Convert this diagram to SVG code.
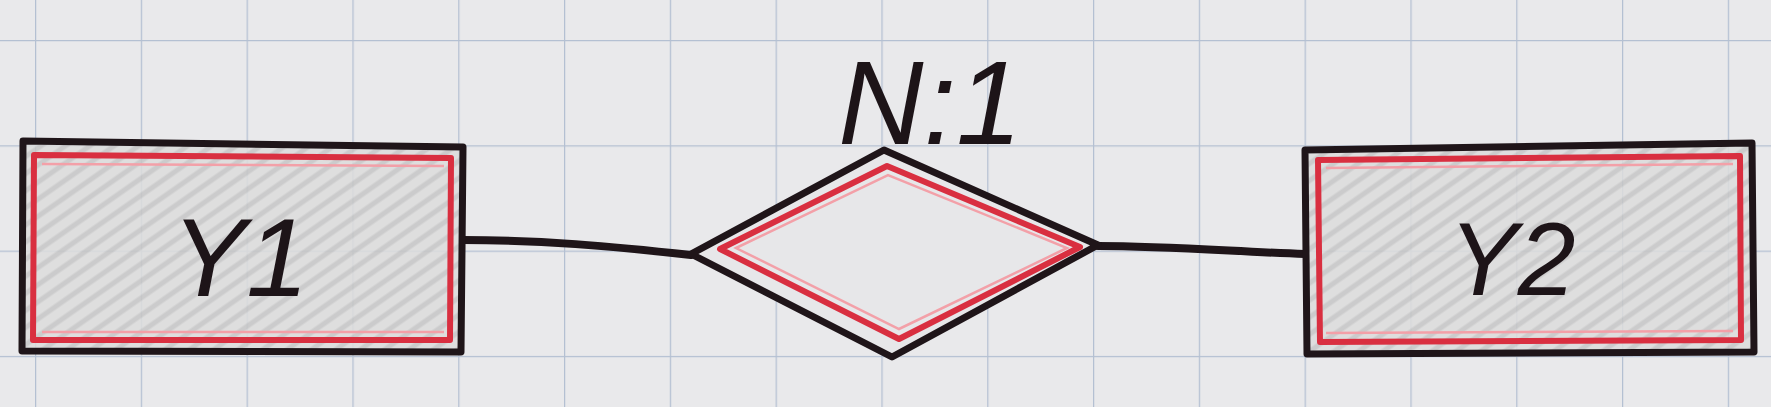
<svg xmlns="http://www.w3.org/2000/svg" width="1771" height="407" viewBox="0 0 1771 407">
  <style>
    .ink { fill: none; stroke: #1f1519; stroke-width: 7; stroke-linejoin: round; stroke-linecap: round; }
    .wire { fill: none; stroke: #1f1519; stroke-width: 8; stroke-linecap: round; }
    .red { fill: none; stroke: #d92f40; stroke-width: 6; stroke-linejoin: round; }
    .redlite { fill: none; stroke: #f3a0a8; stroke-width: 2.5; }
    .lbl { font-family: "Liberation Sans", Arial, sans-serif; font-style: italic; fill: #1d1418; text-anchor: middle; }
  </style>
  <defs>
    <pattern id="grid" x="35" y="40" width="105.8" height="105.3" patternUnits="userSpaceOnUse">
      <path d="M0 0 V105.3 M0 0 H105.8" fill="none" stroke="#b4c0d2" stroke-width="2.5"/>
    </pattern>
    <pattern id="hatch" width="14" height="14" patternUnits="userSpaceOnUse" patternTransform="rotate(-35)">
      <rect width="14" height="14" fill="#dcdcdc"/>
      <line x1="0" y1="3" x2="14" y2="3" stroke="#c6c6c6" stroke-width="5"/>
    </pattern>
  </defs>

  <rect width="1771" height="407" fill="#e9e9eb"/>
  <rect width="1771" height="407" fill="url(#grid)"/>

  <g id="connectors">
    <path class="wire" d="M463 240 C540 240 610 246 691 255"/>
    <path class="wire" d="M1098 246 C1170 246 1240 252 1305 254"/>
  </g>

  <g id="entity-y1">
    <path d="M23 141 L463 147 L461 352 L22 351 Z" fill="url(#hatch)" opacity="0.85"/>
    <path class="ink" d="M23 141 L463 147 L461 352 L22 351 Z"/>
    <path class="red" d="M34 155 L451 158 L450 340 L33 340 Z"/>
    <path class="redlite" d="M42 164 L444 166 M42 332 L444 332"/>
    <text class="lbl" x="240" y="296" font-size="112">Y1</text>
  </g>

  <g id="relationship-n1">
    <path d="M691 254 L884 150 L1098 245 L892 357 Z" fill="#e7e7e9"/>
    <path class="ink" d="M691 254 L884 150 L1098 245 L892 357 Z"/>
    <path class="red" d="M720 249 L887 166 L1080 247 L899 339 Z"/>
    <path class="redlite" d="M736 248 L888 175 L1067 248 L899 329 Z"/>
    <text class="lbl" x="930" y="144" font-size="118">N:1</text>
  </g>

  <g id="entity-y2">
    <path d="M1305 150 L1752 143 L1754 352 L1307 354 Z" fill="url(#hatch)" opacity="0.85"/>
    <path class="ink" d="M1305 150 L1752 143 L1754 352 L1307 354 Z"/>
    <path class="red" d="M1318 160 L1740 156 L1741 340 L1320 342 Z"/>
    <path class="redlite" d="M1326 168 L1733 164 M1326 333 L1733 331"/>
    <text class="lbl" x="1512" y="295" font-size="104">Y2</text>
  </g>
</svg>
